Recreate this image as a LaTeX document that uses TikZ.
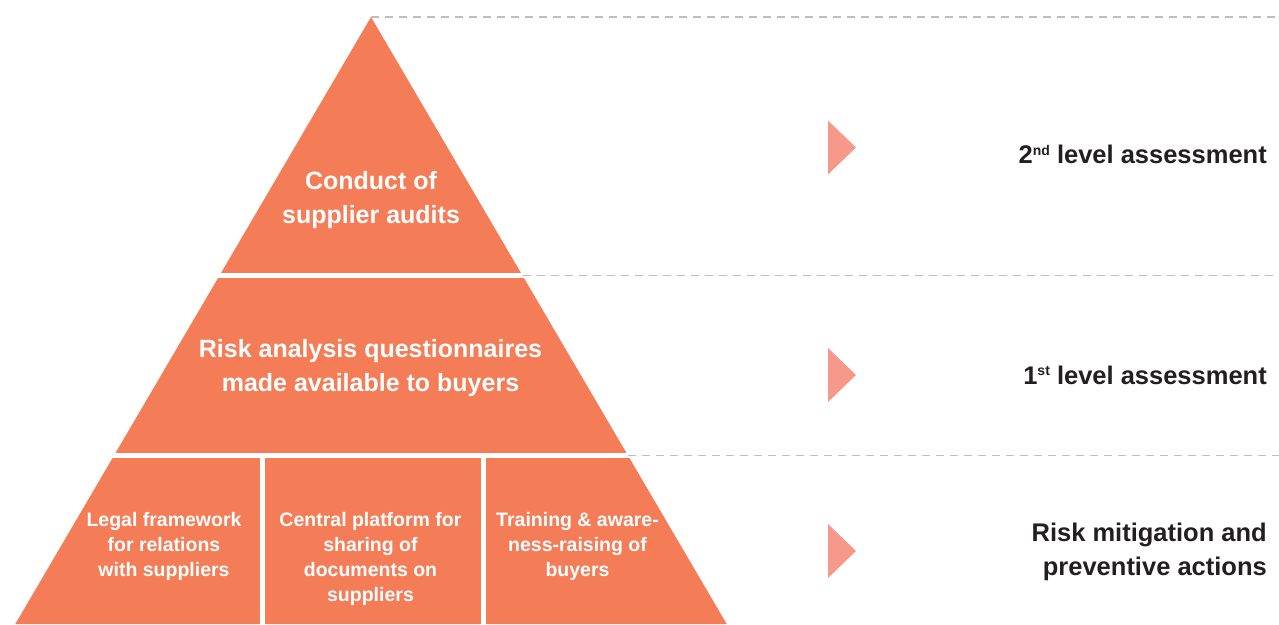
\documentclass[tikz,border=0pt]{standalone}
\usepackage{fontspec}
\setmainfont{Liberation Sans}
\definecolor{pyr}{HTML}{F47C57}
\definecolor{markcol}{HTML}{F6988A}
\definecolor{dashgray}{HTML}{BDBDBD}
\definecolor{labeltext}{HTML}{231F20}
\begin{document}
\begin{tikzpicture}[x=1pt,y=-1pt,
  pyrtext/.style={text=white,font=\fontsize{25}{25}\selectfont\bfseries,anchor=base,inner sep=0pt},
  celltext/.style={text=white,font=\fontsize{19.5}{19.5}\selectfont\bfseries,anchor=base,inner sep=0pt},
  leveltext/.style={text=labeltext,font=\fontsize{25.5}{25.5}\selectfont\bfseries,anchor=base east,inner sep=0pt},
  guide/.style={draw=dashgray,line width=1.5pt,dash pattern=on 8pt off 6pt},
  marker/.style={fill=markcol}]
\useasboundingbox (0,0) rectangle (1279,624);
\coordinate (apex) at (371,17);
\coordinate (bl) at (15.3,624);
\coordinate (br) at (726.7,624);
\begin{scope}
  \clip (apex) -- (br) -- (bl) -- cycle;
  \fill[pyr] (0,10) rectangle (1279,273);
  \fill[pyr] (0,278) rectangle (1279,453);
  \fill[pyr] (0,458) rectangle (260,630);
  \fill[pyr] (265,458) rectangle (481,630);
  \fill[pyr] (486,458) rectangle (1279,630);
\end{scope}
% guide lines
\coordinate (g1e) at (1279,17);
\coordinate (g2s) at (522.5,275.5);
\coordinate (g2e) at (1279,275.5);
\coordinate (g3s) at (628,455.5);
\coordinate (g3e) at (1279,455.5);
\draw[guide] (apex) -- (g1e);
\draw[guide] (g2s) -- (g2e);
\draw[guide] (g3s) -- (g3e);
% markers
\fill[marker] (828,120.5) -- (856,147.5) -- (828,174.5) -- cycle;
\fill[marker] (828,348) -- (856,375) -- (828,402) -- cycle;
\fill[marker] (828,524) -- (856,551) -- (828,578) -- cycle;
% pyramid texts
\node[pyrtext] (t1a) at (371,189.5) {Conduct of};
\node[pyrtext] (t1b) at (371,223) {supplier audits};
\node[pyrtext] (t2a) at (370.5,357) {Risk analysis questionnaires};
\node[pyrtext] (t2b) at (370.5,391) {made available to buyers};
\node[celltext] (c1a) at (164,526) {Legal framework};
\node[celltext] (c1b) at (164,551) {for relations};
\node[celltext] (c1c) at (164,576) {with suppliers};
\node[celltext] (c2a) at (370.5,526) {Central platform for};
\node[celltext] (c2b) at (370.5,551) {sharing of};
\node[celltext] (c2c) at (370.5,576) {documents on};
\node[celltext] (c2d) at (370.5,601) {suppliers};
\node[celltext] (c3a) at (577.5,526) {Training \& aware-};
\node[celltext] (c3b) at (577.5,551) {ness-raising of};
\node[celltext] (c3c) at (577.5,576) {buyers};
% level labels
\node[leveltext] (l2) at (1267,163.5) {2\raisebox{0.33em}{\fontsize{14}{14}\selectfont nd} level assessment};
\node[leveltext] (l1) at (1267,384) {1\raisebox{0.33em}{\fontsize{14}{14}\selectfont st} level assessment};
\node[leveltext] (l0a) at (1267,541.5) {Risk mitigation and};
\node[leveltext] (l0b) at (1267,575.5) {preventive actions};
\end{tikzpicture}
\end{document}
